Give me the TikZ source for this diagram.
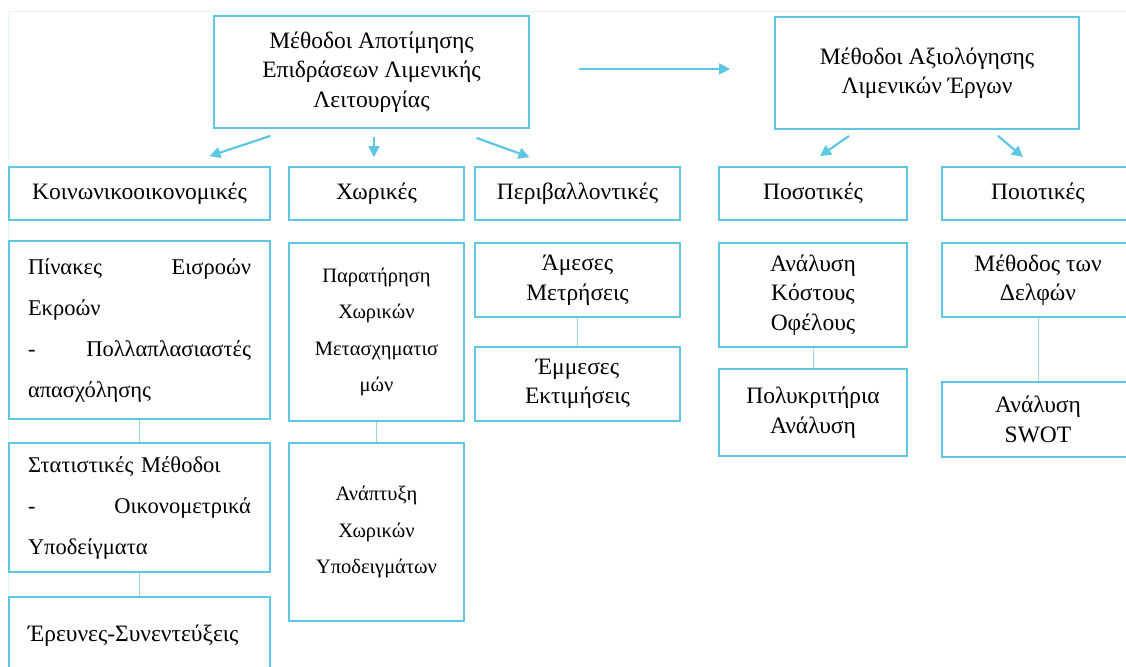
\documentclass[tikz,border=0pt]{standalone}
\usepackage{fontspec}
\setmainfont{Liberation Serif}
\usetikzlibrary{arrows.meta, positioning}

\definecolor{boxblue}{RGB}{92,200,228}
\definecolor{linkblue}{RGB}{150,215,232}
\definecolor{framecyan}{RGB}{228,246,249}

\newcommand{\mainsize}{\fontsize{23.5}{29.5}\selectfont}
\newcommand{\widesize}{\fontsize{22.5}{41}\selectfont}
\newcommand{\smallsize}{\fontsize{20.5}{36.5}\selectfont}

\begin{document}
\begin{tikzpicture}[x=1pt, y=-1pt,
    box/.style={draw=boxblue, line width=1.8pt, inner sep=0pt, align=center, font=\mainsize},
    arrow/.style={-{Triangle[length=11pt, width=11pt]}, boxblue, line width=2.2pt},
    link/.style={linkblue, line width=1pt}
  ]
  \useasboundingbox (0,0) rectangle (1126,666);
  \draw[framecyan, line width=1pt] (8,12) rectangle (1145,690);

  % --- TOP LEVEL ---
  \node[box, minimum width=315pt, minimum height=112pt] (assess) at (371.5,72)
    {Μέθοδοι Αποτίμησης\\Επιδράσεων Λιμενικής\\Λειτουργίας};
  \node[box, minimum width=304pt, minimum height=112pt] (evalp) at (927,73)
    {Μέθοδοι Αξιολόγησης\\Λιμενικών Έργων};

  % --- CATEGORIES ---
  \node[box, minimum width=261pt, minimum height=53pt] (socio) at (139.5,193.5) {Κοινωνικοοικονομικές};
  \node[box, minimum width=175pt, minimum height=53pt] (spatial) at (376.5,193.5) {Χωρικές};
  \node[box, minimum width=205pt, minimum height=53pt] (envir) at (577.5,193.5) {Περιβαλλοντικές};
  \node[box, minimum width=188pt, minimum height=53pt] (quant) at (813,193.5) {Ποσοτικές};
  \node[box, minimum width=192pt, minimum height=53pt] (qual) at (1038,193.5) {Ποιοτικές};

  % --- METHODS ---
  \node[box, minimum width=261pt, minimum height=178pt, text width=223pt, align=left, font=\widesize] (io) at (139.5,330)
    {Πίνακες\hfill Εισροών\\Εκροών\\-\hfill Πολλαπλασιαστές\\απασχόλησης};
  \node[box, minimum width=261pt, minimum height=129pt, text width=223pt, align=left, font=\widesize] (stats) at (139.5,507.5)
    {Στατιστικές Μέθοδοι\\-\hfill Οικονομετρικά\\Υποδείγματα};
  \node[box, minimum width=261pt, minimum height=78pt, text width=223pt, align=left] (survey) at (139.5,636)
    {Έρευνες-Συνεντεύξεις};

  \node[box, minimum width=175pt, minimum height=178pt, font=\smallsize] (observe) at (376.5,332)
    {Παρατήρηση\\Χωρικών\\Μετασχηματισ\\μών};
  \node[box, minimum width=175pt, minimum height=178pt, font=\smallsize] (models) at (376.5,532)
    {Ανάπτυξη\\Χωρικών\\Υποδειγμάτων};

  \node[box, minimum width=205pt, minimum height=74pt] (direct) at (577.5,280) {Άμεσες\\Μετρήσεις};
  \node[box, minimum width=205pt, minimum height=74pt] (indirect) at (577.5,384) {Έμμεσες\\Εκτιμήσεις};

  \node[box, minimum width=188pt, minimum height=104pt] (cba) at (813,295) {Ανάλυση\\Κόστους\\Οφέλους};
  \node[box, minimum width=188pt, minimum height=87pt] (mca) at (813,412.5) {Πολυκριτήρια\\Ανάλυση};

  \node[box, minimum width=192pt, minimum height=74pt] (delphi) at (1038,280) {Μέθοδος των\\Δελφών};
  \node[box, minimum width=192pt, minimum height=75pt] (swot) at (1038,419.5) {Ανάλυση\\SWOT};

  % --- ARROWS ---
  \draw[arrow] ([xshift=49pt, yshift=3pt]assess.east) -- ([xshift=-44pt, yshift=4pt]evalp.west);
  \draw[arrow] ([xshift=-101pt, yshift=-7pt]assess.south) -- ([xshift=70pt, yshift=10pt]socio.north);
  \draw[arrow] ([xshift=2.5pt, yshift=-8pt]assess.south) -- ([xshift=-2.5pt, yshift=9pt]spatial.north);
  \draw[arrow] ([xshift=105pt, yshift=-9pt]assess.south) -- ([xshift=-48pt, yshift=9pt]envir.north);
  \draw[arrow] ([xshift=-78pt, yshift=-6pt]evalp.south) -- ([xshift=7pt, yshift=10pt]quant.north);
  \draw[arrow] ([xshift=71pt, yshift=-6pt]evalp.south) -- ([xshift=-15pt, yshift=9pt]qual.north);

  % --- LINKS ---
  \draw[link] (io) -- (stats);
  \draw[link] (stats) -- (survey);
  \draw[link] (observe) -- (models);
  \draw[link] (direct) -- (indirect);
  \draw[link] (cba) -- (mca);
  \draw[link] (delphi) -- (swot);
\end{tikzpicture}
\end{document}
